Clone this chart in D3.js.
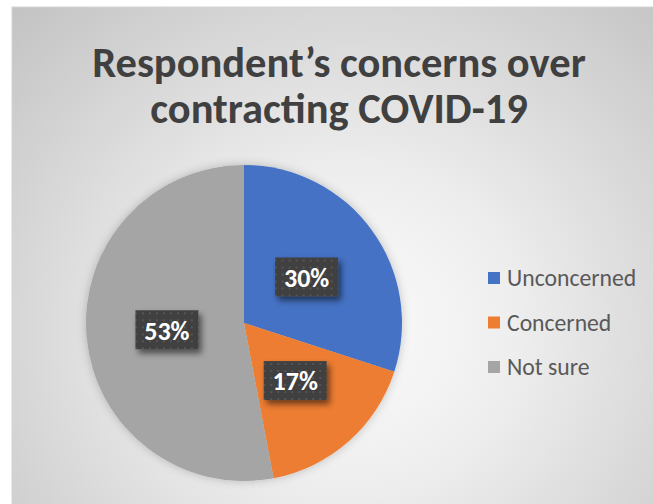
<!DOCTYPE html>
<html>
<head>
<meta charset="utf-8">
<script src="https://cdn.jsdelivr.net/npm/d3@7"></script>
<style>
  html, body { margin: 0; padding: 0; background: #ffffff; }
  svg { display: block; }
</style>
</head>
<body>
<svg id="chart" width="653" height="504"></svg>
<script>
// Survey answers: share of respondents per answer
const categories = ["Unconcerned", "Concerned", "Not sure"];
const shares = [30, 17, 53];
const sliceColors = ["#4472C4", "#ED7D31", "#A5A5A5"];
const titleLines = ["Respondent\u2019s concerns over", "contracting COVID-19"];

const W = 653, H = 504;
const FONT = "Carlito, Calibri, Lato, 'Open Sans', sans-serif";
const svg = d3.select("#chart");
const defs = svg.append("defs");

// Chart-area fill: soft radial gradient, light in the middle, grey at the edges
const bg = defs.append("radialGradient")
  .attr("id", "bgGrad")
  .attr("gradientUnits", "userSpaceOnUse")
  .attr("cx", 350).attr("cy", 330).attr("r", 470)
  .attr("gradientTransform", "translate(350,330) scale(1,0.95) translate(-350,-330)");
bg.append("stop").attr("offset", "0").attr("stop-color", "#fbfbfb");
bg.append("stop").attr("offset", "0.35").attr("stop-color", "#eeeeee");
bg.append("stop").attr("offset", "1").attr("stop-color", "#c4c4c4");

// Soft shadow under the pie
const pieShadow = defs.append("filter").attr("id", "pieShadow")
  .attr("x", "-20%").attr("y", "-20%").attr("width", "140%").attr("height", "140%");
pieShadow.append("feDropShadow")
  .attr("dx", 0).attr("dy", 0).attr("stdDeviation", 5)
  .attr("flood-color", "#000").attr("flood-opacity", 0.22);

// Dark label boxes with a faint dotted texture
const pat = defs.append("pattern").attr("id", "dots")
  .attr("patternUnits", "userSpaceOnUse")
  .attr("width", 7).attr("height", 7);
pat.append("rect").attr("width", 7).attr("height", 7).attr("fill", "#404040");
pat.append("rect").attr("x", 3).attr("y", 3).attr("width", 2).attr("height", 2).attr("fill", "#545454");

const boxShadow = defs.append("filter").attr("id", "boxShadow")
  .attr("x", "-30%").attr("y", "-30%").attr("width", "170%").attr("height", "170%");
boxShadow.append("feDropShadow")
  .attr("dx", 3).attr("dy", 4).attr("stdDeviation", 3)
  .attr("flood-color", "#000").attr("flood-opacity", 0.55);

// Chart area
svg.append("rect")
  .attr("x", 12).attr("y", 7)
  .attr("width", W - 12 + 2).attr("height", H - 7 + 2)
  .attr("fill", "url(#bgGrad)")
  .attr("stroke", "#d4d4d4").attr("stroke-width", 1);

// Title
const title = svg.append("text")
  .attr("text-anchor", "middle")
  .attr("font-family", FONT)
  .attr("font-weight", 700)
  .attr("font-size", 42.5)
  .attr("fill", "#404040");
titleLines.forEach((line, i) => {
  title.append("tspan")
    .attr("x", 339)
    .attr("y", 77 + i * 46)
    .text(line);
});

// Pie
const cx = 244, cy = 323, R = 158;
const pie = d3.pie().sort(null).value(d => d.value);
const arc = d3.arc().innerRadius(0).outerRadius(R);
const labelArc = d3.arc().innerRadius(R * 0.49).outerRadius(R * 0.49);
const data = categories.map((c, i) => ({ name: c, value: shares[i], color: sliceColors[i] }));
const arcs = pie(data);

const g = svg.append("g").attr("transform", `translate(${cx},${cy})`);
g.append("g").attr("filter", "url(#pieShadow)")
  .selectAll("path")
  .data(arcs)
  .join("path")
  .attr("d", arc)
  .attr("fill", d => d.data.color);

// Data labels
const total = d3.sum(shares);
const labels = g.selectAll("g.label")
  .data(arcs)
  .join("g")
  .attr("class", "label")
  .attr("transform", d => `translate(${labelArc.centroid(d)})`);
labels.append("rect")
  .attr("x", -31.5).attr("y", -20)
  .attr("width", 63).attr("height", 39)
  .attr("fill", "url(#dots)")
  .attr("filter", "url(#boxShadow)");
labels.append("text")
  .attr("text-anchor", "middle")
  .attr("dy", "0.36em")
  .attr("font-family", FONT)
  .attr("font-weight", 700)
  .attr("font-size", 26)
  .attr("fill", "#ffffff")
  .text(d => Math.round(d.data.value / total * 100) + "%");

// Legend
const legend = svg.append("g").attr("transform", "translate(488,278)");
const item = legend.selectAll("g")
  .data(data)
  .join("g")
  .attr("transform", (d, i) => `translate(0,${i * 44.5})`);
item.append("rect")
  .attr("x", 0).attr("y", -6)
  .attr("width", 12).attr("height", 12)
  .attr("fill", d => d.color);
item.append("text")
  .attr("x", 19).attr("dy", "0.35em")
  .attr("font-family", FONT)
  .attr("font-size", 23.7)
  .attr("fill", "#595959")
  .text(d => d.name);
</script>
</body>
</html>
